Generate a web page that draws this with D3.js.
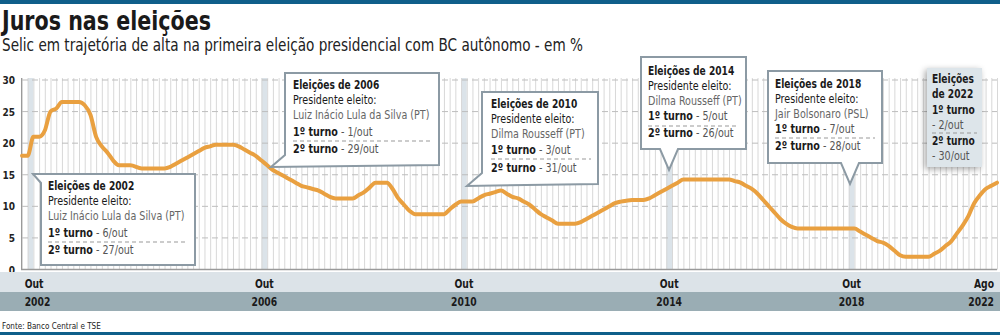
<!DOCTYPE html>
<meta charset="utf-8">
<style>
body { margin: 0; background: #fff; }
svg { display: block; }
text { font-family: "DejaVu Sans Condensed", "Roboto", sans-serif; }
</style>
<body>
<script src="https://cdn.jsdelivr.net/npm/d3@7"></script>
<script>

// Selic rate at each Copom meeting (index = meeting number from Sep/2002)
var nMeetings = 172;
var meetIdx = [0, 1, 2, 3, 4, 5, 6, 7, 10, 11, 12, 13, 14, 15, 16, 17, 19, 21, 25, 26, 27, 28, 29, 30, 31, 32, 33, 34, 37, 38, 39, 40, 41, 42, 43, 44, 45, 46, 47, 48, 49, 50, 51, 52, 53, 54, 55, 58, 59, 60, 61, 62, 64, 65, 66, 67, 68, 69, 74, 75, 76, 77, 79, 80, 81, 82, 83, 84, 85, 86, 87, 88, 89, 90, 91, 92, 93, 94, 97, 98, 99, 100, 101, 102, 103, 104, 105, 106, 107, 109, 110, 111, 112, 113, 114, 115, 116, 124, 125, 126, 127, 128, 129, 130, 131, 132, 133, 134, 135, 136, 146, 147, 148, 149, 150, 151, 152, 153, 154, 155, 159, 160, 161, 162, 163, 164, 165, 166, 167, 168, 169, 170, 171];
var selic = [18, 18, 21, 21, 22, 25, 25.5, 26.5, 26.5, 26, 24.5, 21, 19.5, 18.5, 17.25, 16.5, 16.5, 16, 16, 16.25, 16.75, 17.25, 17.75, 18.25, 18.75, 19.25, 19.5, 19.75, 19.75, 19.5, 19, 18.5, 18, 17.25, 16.5, 15.75, 15.25, 14.75, 14.25, 13.75, 13.25, 13, 12.75, 12.5, 12, 11.5, 11.25, 11.25, 11.75, 12.25, 13, 13.75, 13.75, 12.75, 11.25, 10.25, 9.25, 8.75, 8.75, 9.5, 10.25, 10.75, 10.75, 11.25, 11.75, 12, 12.25, 12.5, 12, 11.5, 11.25, 10.75, 10.25, 9.5, 8.75, 8.25, 7.75, 7.25, 7.25, 7.5, 8, 8.5, 9, 9.5, 10, 10.5, 10.75, 10.9, 11, 11, 11.25, 11.75, 12.25, 12.75, 13.25, 13.75, 14.25, 14.25, 14, 13.75, 13.25, 12.75, 12, 11, 10, 9, 8, 7.25, 6.75, 6.5, 6.5, 6, 5.5, 5, 4.5, 4.25, 3.75, 3, 2.25, 2, 2, 2.5, 3, 3.75, 4.5, 5.75, 7, 8.5, 10.5, 11.75, 12.75, 13.25, 13.75];

// elections (meeting index of the highlighted column)
var electionIdx = [1, 42, 77, 113, 145];
var tickIdx = [1, 42, 77, 113, 145, 171];
var monthLabels = ["Out", "Out", "Out", "Out", "Out", "Ago"];
var yearLabels = ["2002", "2006", "2010", "2014", "2018", "2022"];
var yTicks = [0, 5, 10, 15, 20, 25, 30];

var electionYears = ["2002", "2006", "2010", "2014", "2018"];
var winners = ["Luiz Inácio Lula da Silva (PT)", "Luiz Inácio Lula da Silva (PT)", "Dilma Rousseff (PT)", "Dilma Rousseff (PT)", "Jair Bolsonaro (PSL)"];
var turno1 = ["6/out", "1/out", "3/out", "5/out", "7/out"];
var turno2 = ["27/out", "29/out", "31/out", "26/out", "28/out"];

var width = 1000,
    height = 335;

var x = d3.scaleLinear().domain([0, nMeetings - 1]).range([22, 997]);
var y = d3.scaleLinear().domain([0, 30]).range([269.5, 80]);
var step = x(1) - x(0);

var svg = d3.select("body").append("svg")
    .attr("width", width)
    .attr("height", height);

// squeeze text horizontally to get the narrow newspaper face
function narrow(sel, tx, sx) {
  return sel.attr("x", 0).attr("transform", "translate(" + tx + ",0) scale(" + sx + ",1)");
}

var defs = svg.append("defs");
var f = defs.append("filter").attr("id", "shadow")
    .attr("x", "-40%").attr("y", "-20%").attr("width", "180%").attr("height", "140%");
f.append("feDropShadow").attr("dx", -2).attr("dy", 2).attr("stdDeviation", 3)
    .attr("flood-color", "#000").attr("flood-opacity", 0.35);

// top and bottom rules
svg.append("rect").attr("x", 0).attr("y", 0).attr("width", width).attr("height", 4).attr("fill", "#0f5f8a");
svg.append("rect").attr("x", 0).attr("y", 332).attr("width", width).attr("height", 3).attr("fill", "#0f5f8a");

svg.append("text")
    .attr("x", 2).attr("y", 30)
    .attr("textLength", 209).attr("lengthAdjust", "spacingAndGlyphs")
    .style("font-size", "27px").style("font-weight", "bold").attr("fill", "#1a1a1a")
    .text("Juros nas eleições");

svg.append("text")
    .attr("x", 2).attr("y", 51)
    .attr("textLength", 581).attr("lengthAdjust", "spacingAndGlyphs")
    .style("font-size", "18px").attr("fill", "#222")
    .text("Selic em trajetória de alta na primeira eleição presidencial com BC autônomo - em %");

// election columns
svg.append("g").selectAll("rect")
  .data(electionIdx)
  .enter().append("rect")
    .attr("x", function(d) { return x(d); })
    .attr("y", 78)
    .attr("width", step)
    .attr("height", y(0) - 78)
    .attr("fill", "#dbe3e9");

// vertical grid, one per meeting
svg.append("g").selectAll("line")
  .data(d3.range(nMeetings))
  .enter().append("line")
    .attr("x1", function(d) { return x(d) + 0.5; })
    .attr("x2", function(d) { return x(d) + 0.5; })
    .attr("y1", 78)
    .attr("y2", y(0))
    .attr("stroke", "#d8d8d8")
    .attr("stroke-width", 1);

// horizontal grid
svg.append("g").selectAll("line")
  .data(yTicks.filter(function(d) { return d > 0; }))
  .enter().append("line")
    .attr("x1", 22).attr("x2", 997)
    .attr("y1", function(d) { return y(d); })
    .attr("y2", function(d) { return y(d); })
    .attr("stroke", "#bdbdbd")
    .attr("stroke-dasharray", "6,4");

svg.append("line")
    .attr("x1", 21).attr("x2", 997)
    .attr("y1", y(0)).attr("y2", y(0))
    .attr("stroke", "#9a9a9a").attr("stroke-width", 1.5);
svg.append("line")
    .attr("x1", 21.5).attr("x2", 21.5)
    .attr("y1", 78).attr("y2", y(0))
    .attr("stroke", "#9a9a9a").attr("stroke-width", 1);

svg.append("g").selectAll("text")
  .data(yTicks)
  .enter().append("text")
    .attr("x", 15)
    .attr("y", function(d) { return y(d) + 4; })
    .attr("text-anchor", "end")
    .style("font-size", "10px").style("font-weight", "bold").attr("fill", "#222")
    .text(function(d) { return d; });

// the Selic line
var pts = meetIdx.map(function(d, i) { return [d, selic[i]]; });
svg.append("path")
    .datum(pts)
    .attr("fill", "none")
    .attr("stroke", "#e9a040")
    .attr("stroke-width", 4)
    .attr("stroke-linejoin", "round")
    .attr("stroke-linecap", "round")
    .attr("d", d3.line()
        .curve(d3.curveMonotoneX)
        .x(function(d) { return x(d[0]); })
        .y(function(d) { return y(d[1]); }));

// x axis bands
svg.append("rect").attr("x", 0).attr("y", 272).attr("width", width).attr("height", 20).attr("fill", "#dce3e8");
svg.append("rect").attr("x", 0).attr("y", 292).attr("width", width).attr("height", 19).attr("fill", "#9aadb4");

function tickX(d, i) {
  if (i === 0) return x(d) - 3;
  if (i === tickIdx.length - 1) return 994;
  return x(d) + step / 2;
}
function tickAnchor(d, i) {
  return i === 0 ? "start" : i === tickIdx.length - 1 ? "end" : "middle";
}

[[monthLabels, 288], [yearLabels, 306]].forEach(function(row) {
  svg.append("g").selectAll("text")
    .data(tickIdx)
    .enter().append("text")
      .attr("y", row[1])
      .attr("text-anchor", tickAnchor)
      .style("font-size", "12.5px").style("font-weight", "bold").attr("fill", "#1a1a1a")
      .text(function(d, i) { return row[0][i]; })
      .each(function(d, i) { narrow(d3.select(this), tickX(d, i), 0.82); });
});

narrow(svg.append("text"), 2, 0.85)
    .attr("y", 329)
    .style("font-size", "9.5px").attr("fill", "#222")
    .text("Fonte: Banco Central e TSE");

// callout boxes
var boxes = [
  { shape: [[33,174],[195,174],[195,265],[41,265],[41,183]], tx: 48, ty: [190.5, 205.5, 220, 237, 254], dash: 242, right: 188 },
  { shape: [[285,73],[439,73],[439,165],[271,167],[285,155]], tx: 293, ty: [89, 104, 119, 136, 153], dash: 141, right: 432 },
  { shape: [[482,92],[598,92],[598,184],[467,186],[482,173]], tx: 491, ty: [108, 123, 138, 154, 172], dash: 159, right: 591 },
  { shape: [[641,57],[746,57],[746,149],[678,149],[669,170],[660,149],[641,149]], tx: 648, ty: [75, 90, 105, 120, 137], dash: 126, right: 739 },
  { shape: [[768,71],[882,71],[882,163],[859,163],[850,184],[841,163],[768,163]], tx: 775, ty: [88, 103, 118, 133, 150], dash: 138, right: 875 }
];

var fs = "13px", sxB = 0.78, sxR = 0.82;
boxes.forEach(function(b, i) {
  var g = svg.append("g");
  g.append("path")
      .attr("d", "M" + b.shape.join("L") + "Z")
      .attr("fill", "#fff")
      .attr("stroke", "#8c9aa4")
      .attr("stroke-width", 2);
  narrow(g.append("text"), b.tx, sxB).attr("y", b.ty[0])
      .style("font-size", fs).style("font-weight", "bold").attr("fill", "#1a1a1a")
      .text("Eleições de " + electionYears[i]);
  narrow(g.append("text"), b.tx, sxR).attr("y", b.ty[1])
      .style("font-size", fs).attr("fill", "#1a1a1a")
      .text("Presidente eleito:");
  narrow(g.append("text"), b.tx, sxR).attr("y", b.ty[2])
      .style("font-size", fs).attr("fill", "#666")
      .text(winners[i]);
  var t1 = narrow(g.append("text"), b.tx, sxR).attr("y", b.ty[3]).style("font-size", fs);
  t1.append("tspan").style("font-weight", "bold").attr("fill", "#1a1a1a").text("1º turno");
  t1.append("tspan").attr("fill", "#555").text(" - " + turno1[i]);
  g.append("line")
      .attr("x1", b.tx).attr("x2", b.right)
      .attr("y1", b.dash).attr("y2", b.dash)
      .attr("stroke", "#999").attr("stroke-dasharray", "4,3");
  var t2 = narrow(g.append("text"), b.tx, sxR).attr("y", b.ty[4]).style("font-size", fs);
  t2.append("tspan").style("font-weight", "bold").attr("fill", "#1a1a1a").text("2º turno");
  t2.append("tspan").attr("fill", "#555").text(" - " + turno2[i]);
});

// 2022 box
var g22 = svg.append("g");
g22.append("rect")
    .attr("x", 927).attr("y", 68).attr("width", 55).attr("height", 99)
    .attr("fill", "#dde5ea")
    .attr("filter", "url(#shadow)");
var lines22 = [
  { t: "Eleições", b: true, y: 83 },
  { t: "de 2022", b: true, y: 98 },
  { t: "1º turno", b: true, y: 114 },
  { t: "- 2/out", b: false, y: 129 },
  { t: "2º turno", b: true, y: 145 },
  { t: "- 30/out", b: false, y: 160 }
];
g22.selectAll("text")
  .data(lines22)
  .enter().append("text")
    .attr("y", function(d) { return d.y; })
    .style("font-size", fs)
    .style("font-weight", function(d) { return d.b ? "bold" : "normal"; })
    .attr("fill", function(d) { return d.b ? "#1a1a1a" : "#555"; })
    .text(function(d) { return d.t; })
    .each(function(d) { narrow(d3.select(this), 932, d.b ? sxB : sxR); });
g22.append("line")
    .attr("x1", 932).attr("x2", 977)
    .attr("y1", 133).attr("y2", 133)
    .attr("stroke", "#999").attr("stroke-dasharray", "4,3");

</script>
